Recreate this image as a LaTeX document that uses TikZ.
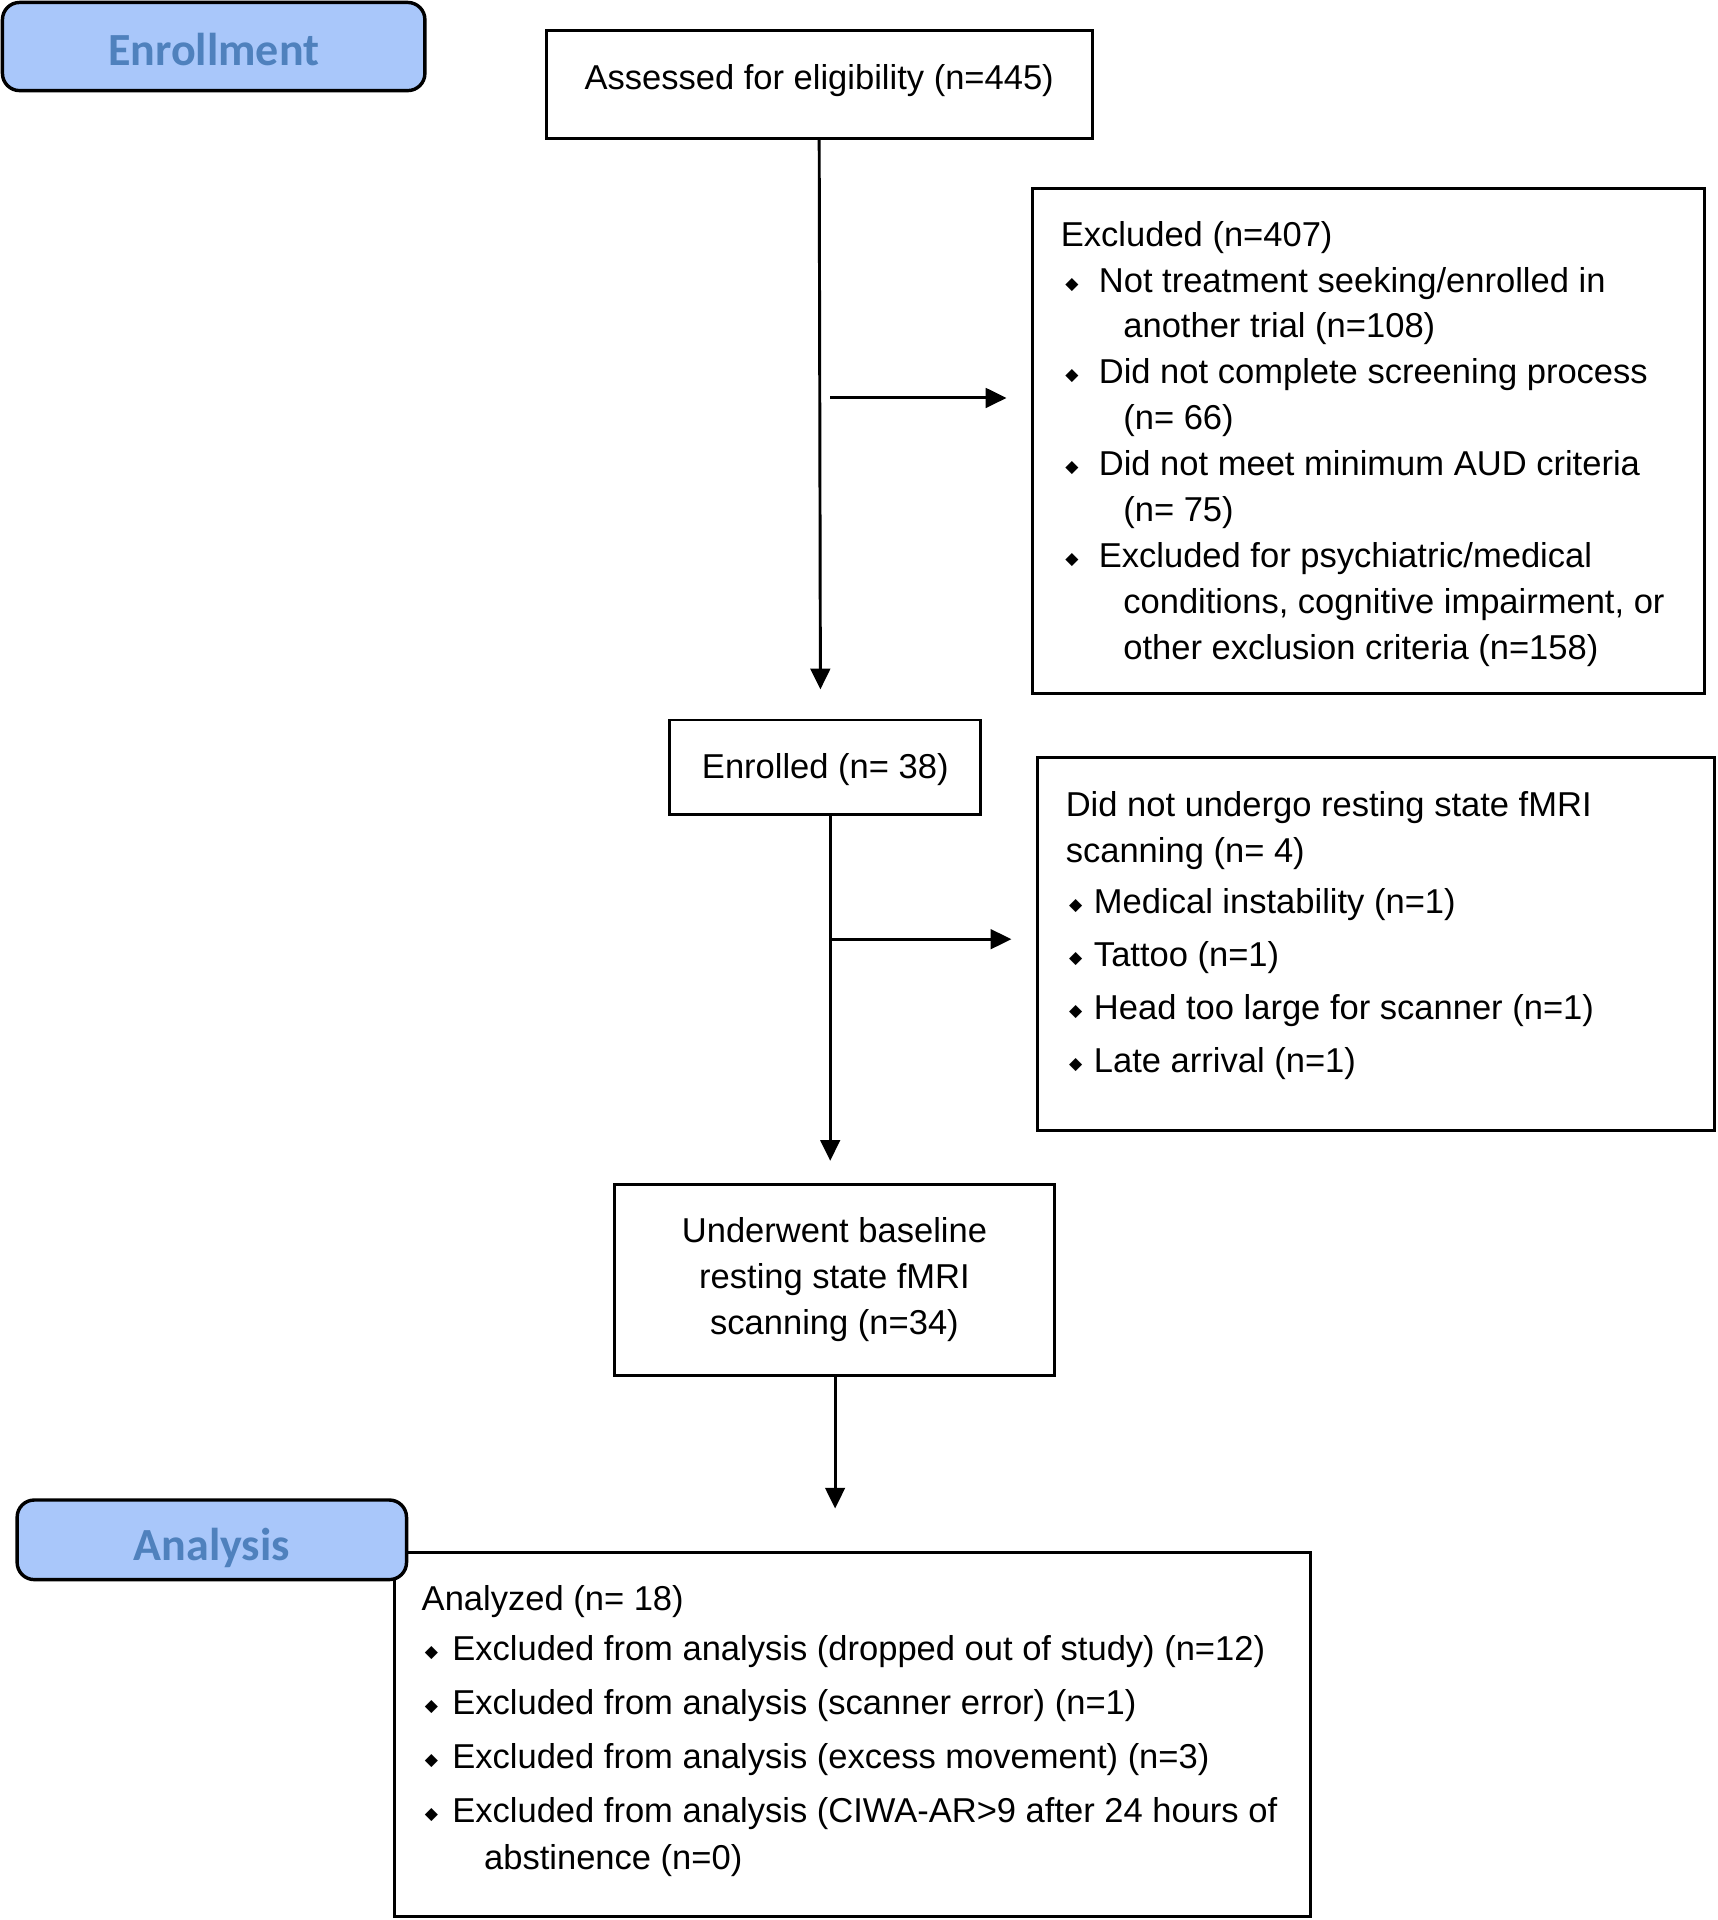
\documentclass[tikz,border=0pt]{standalone}
\usepackage{fontspec}
\setmainfont{Liberation Sans}
\newfontfamily\titlefont{Carlito}
\newfontfamily\symfont{DejaVu Sans}
\usetikzlibrary{arrows.meta,calc}
\definecolor{phasefill}{RGB}{169,199,250}
\definecolor{phasetext}{RGB}{79,129,189}
\newcommand\bul{\raisebox{1.2pt}{\symfont\fontsize{7pt}{7pt}\selectfont ◆}}
\newcommand\bitem[2]{\makebox[#1]{\bul}\hspace*{#2}}
\begin{document}
\begin{tikzpicture}[x=0.5pt,y=-0.5pt,
  box/.style={draw=black,line width=1.2pt,inner sep=0pt,fill=white},
  phase/.style={draw=black,line width=1.4pt,rounded corners=7pt,fill=phasefill,text=phasetext,
    font=\titlefont\bfseries\fontsize{18.8pt}{20pt}\selectfont,inner sep=0pt,text depth=0pt},
  body/.style={font=\fontsize{14.1pt}{18.75pt}\selectfont},
  txt/.style={body,inner sep=0pt,align=left,anchor=base west},
  arr/.style={line width=1.2pt,-{Triangle[length=8.5pt,width=8pt]}}]
\useasboundingbox (0,0) rectangle (1403,1568);

% phase label (enrollment)
\node[phase,text height=15.2pt,minimum width=172.5pt,minimum height=36pt] (enr) at (174.5,38) {Enrollment};

% boxes
\node[box,body,text depth=6pt,minimum width=223pt,minimum height=44pt] (assess) at (669,69) {Assessed for eligibility (n=445)};
\node[box,minimum width=274.5pt,minimum height=206pt] (excl) at (1117.5,360) {};
\node[box,body,text depth=1pt,minimum width=127pt,minimum height=38.5pt] (enrolled) at (674,626.5) {Enrolled (n= 38)};
\node[box,minimum width=276.5pt,minimum height=152pt] (notund) at (1123.5,771) {};
\node[box,body,align=center,minimum width=179.5pt,minimum height=78pt] (under) at (681.5,1045)
  {Underwent baseline\\resting state fMRI\\scanning (n=34)};
\node[box,minimum width=374pt,minimum height=148.5pt] (analyzed) at (696,1416.5) {};

% phase label (analysis), drawn over the box corner
\node[phase,text height=17.2pt,minimum width=159pt,minimum height=32.5pt] (ana) at (173,1257.5) {Analysis};

% texts (anchor = baseline of the last line)
\node[txt] (excltxt) at (866,538.5) {Excluded (n=407)\\
\bitem{9pt}{6.5pt}Not treatment seeking/enrolled in\\
\hspace*{25.5pt}another trial (n=108)\\
\bitem{9pt}{6.5pt}Did not complete screening process\\
\hspace*{25.5pt}(n= 66)\\
\bitem{9pt}{6.5pt}Did not meet minimum AUD criteria\\
\hspace*{25.5pt}(n= 75)\\
\bitem{9pt}{6.5pt}Excluded for psychiatric/medical\\
\hspace*{25.5pt}conditions, cognitive impairment, or\\
\hspace*{25.5pt}other exclusion criteria (n=158)};

\node[txt] (nuhead) at (870,704) {Did not undergo resting state fMRI\\scanning (n= 4)};
\node[txt,font=\fontsize{14.1pt}{21.67pt}\selectfont] (nulist) at (870,876) {\bitem{8pt}{3.5pt}Medical instability (n=1)\\
\bitem{8pt}{3.5pt}Tattoo (n=1)\\
\bitem{8pt}{3.5pt}Head too large for scanner (n=1)\\
\bitem{8pt}{3.5pt}Late arrival (n=1)};

\node[txt] (anhead) at (344,1315) {Analyzed (n= 18)};
\node[txt,font=\fontsize{14.1pt}{22pt}\selectfont] (anlist) at (344,1527) {\bitem{8pt}{4.5pt}Excluded from analysis (dropped out of study) (n=12)\\
\bitem{8pt}{4.5pt}Excluded from analysis (scanner error) (n=1)\\
\bitem{8pt}{4.5pt}Excluded from analysis (excess movement) (n=3)\\
\bitem{8pt}{4.5pt}Excluded from analysis (CIWA-AR>9 after 24 hours of\\[-2.5pt]
\hspace*{25.5pt}abstinence (n=0)};

% connector ends
\coordinate (a1) at (670,563);
\coordinate (h1s) at (678,325);
\coordinate (h1e) at (822,325);
\coordinate (a2) at (678,948);
\coordinate (h2s) at (678,767);
\coordinate (h2e) at (826,767);
\coordinate (a3) at (682,1232);

\draw[arr] (assess.south) -- (a1);
\draw[arr] (h1s) -- (h1e);
\draw[arr] (enrolled.south -| a2) -- (a2);
\draw[arr] (h2s) -- (h2e);
\draw[arr] (under.south -| a3) -- (a3);
\end{tikzpicture}
\end{document}
